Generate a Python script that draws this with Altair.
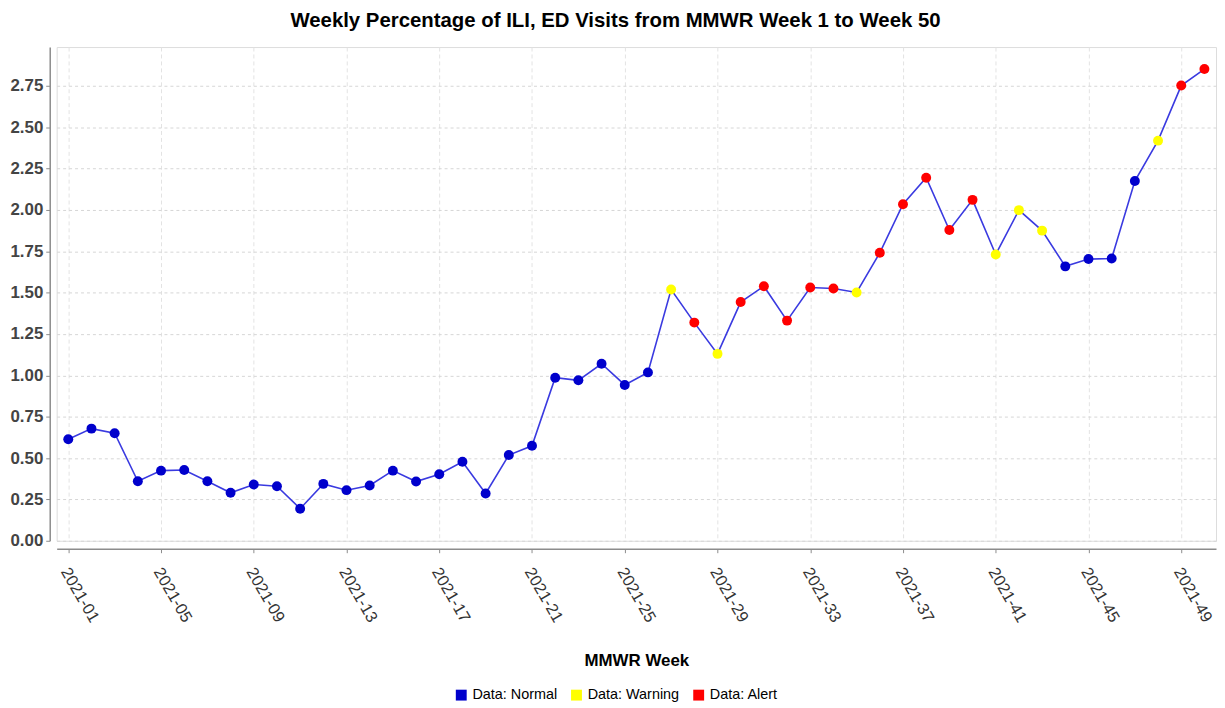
import altair as alt
import pandas as pd

weeks = [f"2021-{i:02d}" for i in range(1, 51)]
values = [0.614, 0.678, 0.650, 0.360, 0.424, 0.428, 0.360, 0.290, 0.340, 0.330,
          0.194, 0.344, 0.306, 0.334, 0.424, 0.358, 0.402, 0.478, 0.286, 0.518,
          0.574, 0.986, 0.970, 1.070, 0.942, 1.018, 1.519, 1.319, 1.130, 1.443,
          1.539, 1.331, 1.531, 1.525, 1.501, 1.741, 2.035, 2.195, 1.879, 2.061,
          1.731, 1.999, 1.875, 1.659, 1.703, 1.707, 2.175, 2.419, 2.752, 2.852]
status = (["Normal"] * 26 + ["Warning", "Alert", "Warning"] + ["Alert"] * 5 +
          ["Warning"] + ["Alert"] * 5 + ["Warning"] * 3 + ["Normal"] * 4 +
          ["Warning", "Alert", "Alert"])
tick_weeks = weeks[0::4]
y_ticks = [0, 0.25, 0.5, 0.75, 1.0, 1.25, 1.5, 1.75, 2.0, 2.25, 2.5, 2.75]
status_levels = ["Normal", "Warning", "Alert"]
status_colors = ["#0000cc", "#ffff00", "#ff0000"]

df = pd.DataFrame({"week": weeks, "value": values, "status": status})

FONT = "Liberation Sans, Arial, sans-serif"

x_enc = alt.X("week:O", sort=weeks,
              scale=alt.Scale(type="point", padding=0.5),
              axis=alt.Axis(values=tick_weeks, title="MMWR Week",
                            labelAngle=60, labelAlign="left", labelBaseline="middle",
                            labelFont=FONT, labelFontSize=16.5, labelColor="#333333",
                            labelOffset=-4,
                            titleFont=FONT, titleFontSize=17, titleFontWeight="bold",
                            titleColor="#000000", titlePadding=28,
                            offset=8, domainColor="#8c8c8c", domainWidth=1.5,
                            tickColor="#8c8c8c", tickSize=4, labelPadding=16,
                            grid=True, gridColor="#e3e3e3", gridDash=[4, 3],
                            gridWidth=1))
y_enc = alt.Y("value:Q",
              scale=alt.Scale(domain=[0, 2.985], nice=False, zero=True),
              axis=alt.Axis(values=y_ticks, format=".2f", title=None,
                            labelFont=FONT, labelFontSize=17, labelFontWeight="bold",
                            labelColor="#444444", offset=7,
                            domainColor="#8c8c8c", domainWidth=1.5,
                            tickColor="#8c8c8c", tickSize=4, labelPadding=3,
                            grid=True, gridColor="#d6d6d6", gridDash=[3, 3],
                            gridWidth=1))

line = alt.Chart(df).mark_line(color="#3a3ae0", strokeWidth=1.6).encode(
    x=x_enc, y=y_enc)

points = alt.Chart(df).mark_circle(size=100, opacity=1).encode(
    x=alt.X("week:O", sort=weeks),
    y=alt.Y("value:Q"),
    color=alt.Color("status:N",
                    scale=alt.Scale(domain=status_levels, range=status_colors),
                    legend=alt.Legend(orient="none", legendX=400, legendY=645,
                                      direction="horizontal", title=None,
                                      symbolType="square", symbolSize=120,
                                      symbolStrokeWidth=0,
                                      labelExpr="'Data: ' + datum.label",
                                      labelFont=FONT, labelFontSize=14.5,
                                      labelColor="#000000", columnPadding=12,
                                      labelOffset=4)))

chart = (line + points).properties(
    width=1167, height=497,
    autosize=alt.AutoSizeParams(type="none"),
    padding={"left": 49, "top": 37, "right": 1, "bottom": 160},
    title=alt.TitleParams("Weekly Percentage of ILI, ED Visits from MMWR Week 1 to Week 50",
                          font=FONT, fontSize=20.5, fontWeight="bold", color="#000000",
                          anchor="middle", dx=-21, offset=16),
).configure_view(stroke="#8c8c8c", strokeWidth=1.5).configure(background="white")

chart.save("out.html", embed_options={"renderer": "svg", "actions": False})
